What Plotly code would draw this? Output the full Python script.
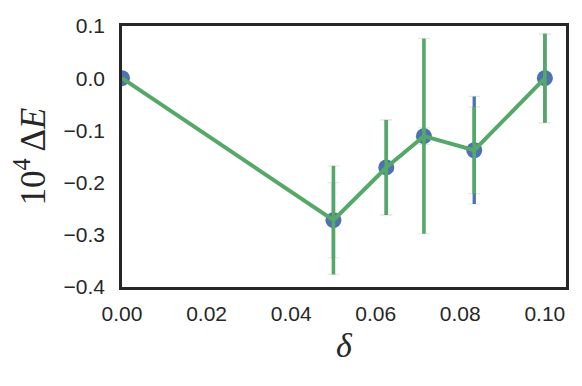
import plotly.graph_objects as go

# data
delta = [0.0, 0.05, 0.0625, 0.0714, 0.0833, 0.1]
energy = [0.0, -0.272, -0.171, -0.111, -0.138, 0.0]
err_blue = [0.0, 0.072, 0.091, 0.016, 0.103, 0.085]
err_green = [0.0, 0.104, 0.091, 0.187, 0.083, 0.085]

x_ticks = [0.0, 0.02, 0.04, 0.06, 0.08, 0.10]
x_tick_labels = ["0.00", "0.02", "0.04", "0.06", "0.08", "0.10"]
y_ticks = [0.1, 0.0, -0.1, -0.2, -0.3, -0.4]
y_tick_labels = ["0.1", "0.0", "\u22120.1", "\u22120.2", "\u22120.3", "\u22120.4"]

BLUE = "#4C72B0"
GREEN = "#55A868"
CAP = "#e2ece4"
INK = "#262626"

fig = go.Figure()

# faint caps for both error sets
for err in (err_blue, err_green):
    fig.add_trace(go.Scatter(
        x=delta, y=energy, mode="markers",
        marker=dict(size=1, color="rgba(0,0,0,0)"),
        error_y=dict(type="data", array=err, color=CAP, thickness=1.2, width=6),
        hoverinfo="skip", showlegend=False,
    ))

fig.add_trace(go.Scatter(
    x=delta, y=energy, mode="markers",
    marker=dict(size=16, color=BLUE),
    error_y=dict(type="data", array=err_blue, color=BLUE, thickness=3.3, width=0),
    showlegend=False,
))

fig.add_trace(go.Scatter(
    x=delta, y=energy, mode="lines",
    line=dict(color=GREEN, width=4),
    error_y=dict(type="data", array=err_green, color=GREEN, thickness=3.6, width=0),
    showlegend=False,
))

# page body has an 8px margin, so the figure is sized to fit inside the window
fig.update_layout(
    width=574, height=378,
    margin=dict(l=114, r=16, t=18, b=99),
    paper_bgcolor="white", plot_bgcolor="white",
    font=dict(family="Liberation Sans, Arial, sans-serif", size=21, color=INK),
)
fig.update_xaxes(
    range=[0, 0.105], tickvals=x_ticks, ticktext=x_tick_labels,
    showgrid=False, zeroline=False, ticks="", ticklabelstandoff=6,
    showline=True, linecolor=INK, linewidth=2.5, mirror=True, automargin=False,
    title=dict(text="<i>δ</i>", font=dict(family="Liberation Serif, serif", size=34), standoff=10),
)
fig.update_yaxes(
    range=[-0.4, 0.1], tickvals=y_ticks, ticktext=y_tick_labels,
    showgrid=False, zeroline=False, ticks="", ticklabelstandoff=10,
    showline=True, linecolor=INK, linewidth=2.5, mirror=True, automargin=False,
    title=dict(text="10<sup>4</sup> Δ<i>E</i>", font=dict(family="Liberation Serif, serif", size=35), standoff=8),
)

fig.write_html("out.html")
